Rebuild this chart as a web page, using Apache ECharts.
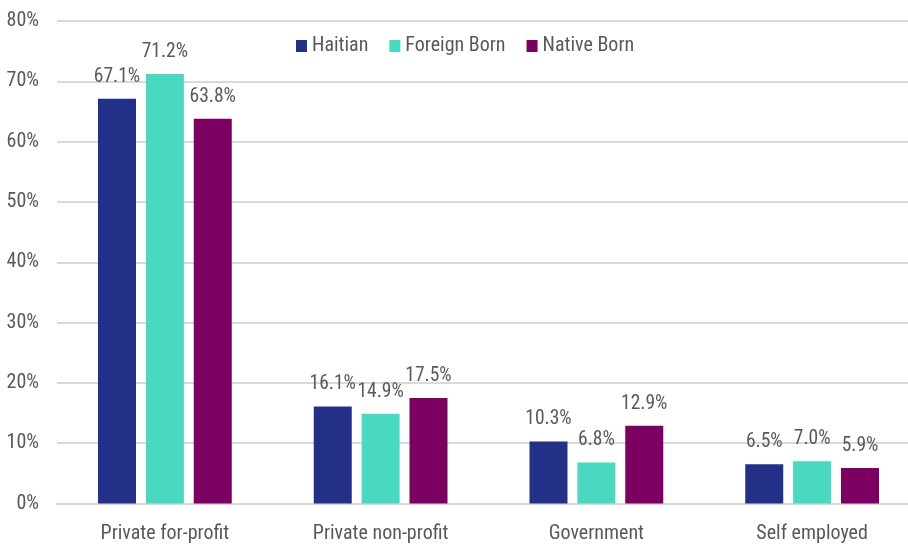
<!DOCTYPE html>
<html><head><meta charset="utf-8">
<script src="https://cdn.jsdelivr.net/npm/echarts@6/dist/echarts.min.js"></script>
<style>html,body{margin:0;padding:0;background:#fff;overflow:hidden;width:908px;height:549px}#c{width:920px;height:549px}</style>
</head><body><div id="c"></div>
<script>
const categories = ["Private for-profit", "Private non-profit", "Government", "Self employed"];
const haitian = [67.1, 16.1, 10.3, 6.5];
const foreignBorn = [71.2, 14.9, 6.8, 7.0];
const nativeBorn = [63.8, 17.5, 12.9, 5.9];
const seriesNames = ["Haitian", "Foreign Born", "Native Born"];
const colors = ["#233088", "#4ad9c0", "#7b0062"];
const FONT = "'Roboto Condensed', 'Liberation Sans Narrow', sans-serif";
const TXT = '#595959';
const chart = echarts.init(document.getElementById('c'));
const lbl = {show:true, position:'top', distance:12, color:TXT, fontSize:19.5, fontFamily:FONT, formatter: p => p.value.toFixed(1) + '%'};
chart.setOption({
  animation:false,
  textStyle:{fontFamily:FONT},
  legend:{
    data: seriesNames, top: 31, left: 291, itemWidth:11, itemHeight:12, itemGap:21, icon:'rect',
    textStyle:{color:TXT, fontSize:20, fontFamily:FONT}
  },
  grid:{left:57, right:0, top:21, bottom:45.5},
  xAxis:{type:'category', data:categories,
    axisLine:{show:true, lineStyle:{color:'#d9d9d9', width:2}}, axisTick:{show:false},
    axisLabel:{color:TXT, fontSize:20, fontFamily:FONT, margin:20}},
  yAxis:{type:'value', min:0, max:80, interval:10,
    axisLabel:{formatter:'{value}%', color:TXT, fontSize:20, fontFamily:FONT, margin:18},
    splitLine:{lineStyle:{color:'#d9d9d9', width:2}}, axisLine:{show:false}, axisTick:{show:false}},
  series:[
    {name:seriesNames[0], type:'bar', data:haitian, itemStyle:{color:colors[0]}, barWidth:38, barGap:'26%', label:lbl},
    {name:seriesNames[1], type:'bar', data:foreignBorn, itemStyle:{color:colors[1]}, barWidth:38, barGap:'26%', label:lbl},
    {name:seriesNames[2], type:'bar', data:nativeBorn, itemStyle:{color:colors[2]}, barWidth:38, barGap:'26%', label:lbl}
  ]
});
</script></body></html>
